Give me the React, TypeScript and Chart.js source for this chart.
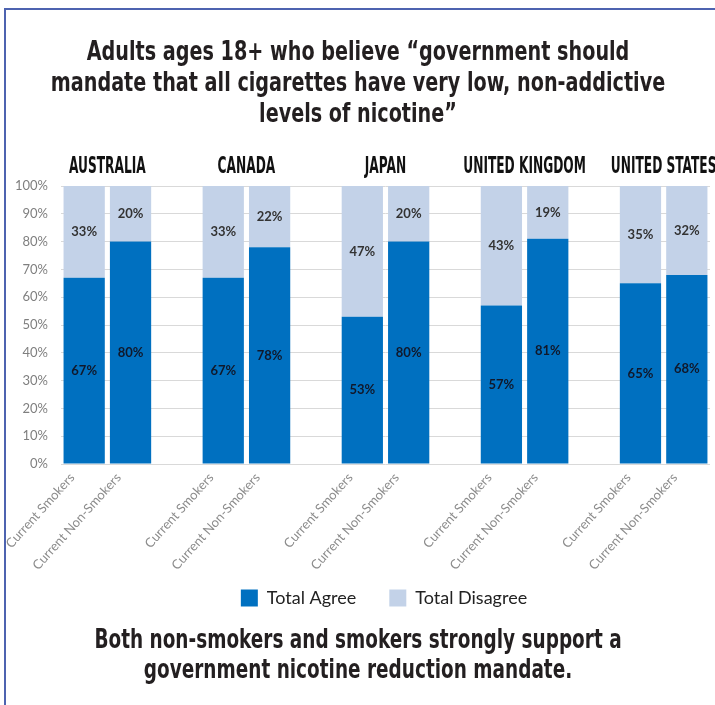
import React, { useEffect, useRef } from "react";
import { Chart, registerables } from "chart.js";

Chart.register(...registerables);

const countries = ["AUSTRALIA", "CANADA", "JAPAN", "UNITED KINGDOM", "UNITED STATES"];
const groupLabels = ["Current Smokers", "Current Non-Smokers"];
const smokersAgree = [67, 67, 53, 57, 65];
const nonSmokersAgree = [80, 78, 80, 81, 68];
const smokersDisagree = [33, 33, 47, 43, 35];
const nonSmokersDisagree = [20, 22, 20, 19, 32];
const yTicks = [0, 10, 20, 30, 40, 50, 60, 70, 80, 90, 100];
const titleLines = [
  "Adults ages 18+ who believe \u201Cgovernment should",
  "mandate that all cigarettes have very low, non-addictive",
  "levels of nicotine\u201D",
];
const footerLines = [
  "Both non-smokers and smokers strongly support a",
  "government nicotine reduction mandate.",
];

const AGREE = "#0070c0";
const DISAGREE = "#c3d2e8";
const COND = '"DejaVu Sans Condensed", "DejaVu Sans", sans-serif';
const BODY = 'Lato, "Open Sans", sans-serif';

function buildSeries(a: number[], b: number[]) {
  const out: (number | null)[] = [];
  a.forEach((v, i) => {
    out.push(v, b[i]);
    if (i < a.length - 1) out.push(null);
  });
  return out;
}

const labels: string[] = [];
countries.forEach((_, i) => {
  labels.push(groupLabels[0], groupLabels[1]);
  if (i < countries.length - 1) labels.push("");
});

const valueLabels = {
  id: "valueLabels",
  afterDatasetsDraw(chart: any) {
    const ctx = chart.ctx;
    ctx.save();
    ctx.textAlign = "center";
    ctx.textBaseline = "middle";
    ctx.font = `bold 13px ${BODY}`;
    chart.data.datasets.forEach((ds: any, di: number) => {
      const meta = chart.getDatasetMeta(di);
      meta.data.forEach((el: any, i: number) => {
        const v = ds.data[i];
        if (v == null) return;
        ctx.fillStyle = di === 0 ? "#10182a" : "#333333";
        ctx.fillText(`${v}%`, el.x, (el.y + el.base) / 2);
      });
    });
    ctx.restore();
  },
};

const countryHeaders = {
  id: "countryHeaders",
  afterDraw(chart: any) {
    const ctx = chart.ctx;
    const x = chart.scales.x;
    const top = chart.chartArea.top;
    ctx.save();
    ctx.font = `bold 23px ${COND}`;
    ctx.fillStyle = "#111111";
    ctx.textAlign = "center";
    ctx.textBaseline = "alphabetic";
    countries.forEach((c, i) => {
      const cx = (x.getPixelForValue(i * 3) + x.getPixelForValue(i * 3 + 1)) / 2;
      ctx.save();
      ctx.translate(cx, top - 13);
      ctx.scale(0.59, 1);
      ctx.fillText(c, 0, 0);
      ctx.restore();
    });
    ctx.restore();
  },
};

export default function App() {
  const ref = useRef<HTMLCanvasElement>(null);
  useEffect(() => {
    if (!ref.current) return;
    const chart = new Chart(ref.current, {
      type: "bar",
      data: {
        labels,
        datasets: [
          { label: "Total Agree", data: buildSeries(smokersAgree, nonSmokersAgree), backgroundColor: AGREE },
          { label: "Total Disagree", data: buildSeries(smokersDisagree, nonSmokersDisagree), backgroundColor: DISAGREE },
        ],
      },
      options: {
        animation: false,
        responsive: false,
        layout: { padding: { left: 58, right: 5, top: 186, bottom: 88 } },
        datasets: { bar: { barPercentage: 0.89, categoryPercentage: 1 } },
        scales: {
          x: {
            stacked: true,
            grid: { display: false, drawTicks: false },
            border: { display: false },
            afterFit: (axis: any) => {
              axis.height = 92;
              axis._computeLabelArea = () => undefined;
            },
            ticks: {
              autoSkip: false,
              minRotation: 48,
              maxRotation: 48,
              labelOffset: -12,
              color: "#8c8c8c",
              font: { family: BODY, size: 13 },
              padding: 6,
            },
          },
          y: {
            stacked: true,
            min: 0,
            max: 100,
            afterBuildTicks: (axis: any) => {
              axis.ticks = yTicks.map((v) => ({ value: v }));
            },
            afterFit: (axis: any) => {
              axis.width = 3;
              axis._computeLabelArea = () => undefined;
            },
            grid: { color: "#d9d9d9", drawTicks: false, lineWidth: 1 },
            border: { display: false },
            ticks: {
              color: "#7f7f7f",
              font: { family: BODY, size: 13 },
              padding: 13,
              callback: (v: any) => `${v}%`,
            },
          },
        },
        plugins: {
          legend: {
            position: "bottom",
            labels: {
              boxWidth: 17,
              boxHeight: 17,
              padding: 33,
              color: "#222222",
              font: { family: BODY, size: 18 },
            },
          },
          tooltip: { enabled: false },
        },
      },
      plugins: [valueLabels, countryHeaders],
    });
    return () => chart.destroy();
  }, []);

  const headStyle: React.CSSProperties = {
    position: "absolute",
    left: -292.5,
    width: 1300,
    textAlign: "center",
    fontFamily: COND,
    fontWeight: "bold",
    color: "#231f20",
    whiteSpace: "nowrap",
    transformOrigin: "center",
  };

  return (
    <div style={{ position: "fixed", left: 0, top: 0, width: 715, height: 705, background: "#fff", overflow: "hidden" }}>
      <div
        style={{
          position: "absolute",
          left: 4,
          top: 8,
          right: -10,
          bottom: -10,
          borderTop: "2px solid #4d63b0",
          borderLeft: "2px solid #4d63b0",
        }}
      />
      <canvas ref={ref} width={715} height={705} style={{ position: "absolute", left: 0, top: 0 }} />
      <div style={{ ...headStyle, top: 35, fontSize: 27, lineHeight: "31px", transform: "scaleX(0.79)" }}>
        {titleLines.map((l, i) => (
          <div key={i}>{l}</div>
        ))}
      </div>
      <div style={{ ...headStyle, top: 624, fontSize: 27, lineHeight: "30px", transform: "scaleX(0.76)" }}>
        {footerLines.map((l, i) => (
          <div key={i}>{l}</div>
        ))}
      </div>
    </div>
  );
}
